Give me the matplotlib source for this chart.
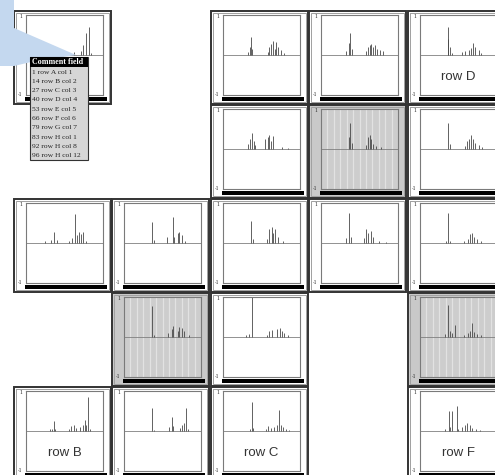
import matplotlib
matplotlib.use("Agg")
import matplotlib.pyplot as plt
from matplotlib.patches import Rectangle, Polygon

# peak positions (fraction of window) and heights, one pair of lists per panel
r0c0_pos = [0.36, 0.62, 0.72, 0.74, 0.78, 0.82, 0.84]
r0c0_h = [0.15, 0.08, 0.10, 0.25, 0.55, 0.70, 0.05]
r0c2_pos = [0.32, 0.35, 0.36, 0.375, 0.58, 0.60, 0.625, 0.65, 0.67, 0.69, 0.72, 0.755, 0.79]
r0c2_h = [0.08, 0.20, 0.44, 0.15, 0.08, 0.20, 0.28, 0.35, 0.15, 0.33, 0.20, 0.12, 0.05]
r0c3_pos = [0.33, 0.37, 0.38, 0.40, 0.59, 0.61, 0.63, 0.655, 0.68, 0.70, 0.73, 0.76, 0.80]
r0c3_h = [0.10, 0.30, 0.56, 0.15, 0.10, 0.20, 0.25, 0.27, 0.20, 0.25, 0.15, 0.12, 0.10]
r0c4_pos = [0.36, 0.37, 0.39, 0.42, 0.55, 0.58, 0.63, 0.66, 0.69, 0.72, 0.76, 0.79]
r0c4_h = [0.40, 0.71, 0.20, 0.05, 0.08, 0.10, 0.12, 0.18, 0.30, 0.20, 0.12, 0.05]
r1c2_pos = [0.32, 0.345, 0.375, 0.40, 0.42, 0.54, 0.58, 0.60, 0.62, 0.645, 0.76, 0.85]
r1c2_h = [0.12, 0.25, 0.40, 0.20, 0.10, 0.25, 0.30, 0.35, 0.20, 0.33, 0.06, 0.03]
r1c3_pos = [0.365, 0.38, 0.40, 0.59, 0.61, 0.63, 0.65, 0.68, 0.72, 0.78]
r1c3_h = [0.30, 0.65, 0.15, 0.10, 0.30, 0.35, 0.25, 0.12, 0.08, 0.05]
r1c4_pos = [0.37, 0.39, 0.58, 0.615, 0.64, 0.665, 0.69, 0.72, 0.77, 0.81]
r1c4_h = [0.65, 0.12, 0.08, 0.20, 0.25, 0.35, 0.25, 0.15, 0.10, 0.05]
r2c0_pos = [0.25, 0.32, 0.37, 0.405, 0.56, 0.60, 0.635, 0.66, 0.69, 0.715, 0.74, 0.78]
r2c0_h = [0.04, 0.07, 0.27, 0.07, 0.04, 0.12, 0.72, 0.20, 0.27, 0.22, 0.27, 0.04]
r2c1_pos = [0.37, 0.39, 0.56, 0.63, 0.65, 0.695, 0.72, 0.75, 0.79]
r2c1_h = [0.52, 0.08, 0.15, 0.65, 0.15, 0.25, 0.28, 0.20, 0.05]
r2c2_pos = [0.365, 0.39, 0.57, 0.60, 0.63, 0.655, 0.68, 0.72, 0.78]
r2c2_h = [0.55, 0.10, 0.10, 0.35, 0.40, 0.25, 0.35, 0.15, 0.05]
r2c3_pos = [0.32, 0.365, 0.39, 0.56, 0.59, 0.615, 0.65, 0.68, 0.755, 0.85]
r2c3_h = [0.12, 0.75, 0.15, 0.12, 0.35, 0.25, 0.30, 0.15, 0.05, 0.03]
r2c4_pos = [0.34, 0.36, 0.39, 0.57, 0.62, 0.65, 0.67, 0.70, 0.745, 0.79]
r2c4_h = [0.05, 0.75, 0.05, 0.05, 0.10, 0.22, 0.25, 0.15, 0.10, 0.06]
r3c1_pos = [0.37, 0.39, 0.57, 0.62, 0.635, 0.695, 0.72, 0.75, 0.78, 0.85]
r3c1_h = [0.77, 0.05, 0.10, 0.20, 0.28, 0.15, 0.25, 0.22, 0.15, 0.06]
r3c2_pos = [0.30, 0.34, 0.375, 0.565, 0.595, 0.63, 0.705, 0.735, 0.765, 0.79, 0.84]
r3c2_h = [0.04, 0.08, 1.00, 0.06, 0.15, 0.18, 0.20, 0.23, 0.15, 0.10, 0.06]
r3c4_pos = [0.33, 0.36, 0.39, 0.415, 0.455, 0.57, 0.62, 0.645, 0.67, 0.70, 0.745, 0.79]
r3c4_h = [0.08, 0.80, 0.15, 0.10, 0.29, 0.05, 0.10, 0.15, 0.35, 0.12, 0.08, 0.05]
r4c0_pos = [0.31, 0.34, 0.36, 0.38, 0.56, 0.59, 0.625, 0.65, 0.695, 0.735, 0.76, 0.78, 0.80, 0.825]
r4c0_h = [0.04, 0.06, 0.25, 0.06, 0.05, 0.12, 0.15, 0.08, 0.10, 0.15, 0.27, 0.15, 0.85, 0.05]
r4c1_pos = [0.37, 0.39, 0.585, 0.62, 0.64, 0.725, 0.755, 0.78, 0.80, 0.825]
r4c1_h = [0.57, 0.03, 0.10, 0.34, 0.12, 0.08, 0.15, 0.20, 0.57, 0.05]
r4c2_pos = [0.345, 0.375, 0.395, 0.56, 0.59, 0.62, 0.665, 0.695, 0.725, 0.75, 0.785, 0.82, 0.855]
r4c2_h = [0.05, 0.72, 0.08, 0.06, 0.12, 0.08, 0.10, 0.15, 0.53, 0.15, 0.10, 0.05, 0.03]
r4c4_pos = [0.33, 0.375, 0.395, 0.42, 0.475, 0.495, 0.55, 0.58, 0.61, 0.645, 0.68, 0.73, 0.785]
r4c4_h = [0.05, 0.51, 0.10, 0.49, 0.63, 0.05, 0.10, 0.15, 0.20, 0.15, 0.08, 0.05, 0.03]

# (row, col, positions, heights, selected, label)
panels = [
    (0, 0, r0c0_pos, r0c0_h, False, None),
    (0, 2, r0c2_pos, r0c2_h, False, None),
    (0, 3, r0c3_pos, r0c3_h, False, None),
    (0, 4, r0c4_pos, r0c4_h, False, "row D"),
    (1, 2, r1c2_pos, r1c2_h, False, None),
    (1, 3, r1c3_pos, r1c3_h, True, None),
    (1, 4, r1c4_pos, r1c4_h, False, None),
    (2, 0, r2c0_pos, r2c0_h, False, None),
    (2, 1, r2c1_pos, r2c1_h, False, None),
    (2, 2, r2c2_pos, r2c2_h, False, None),
    (2, 3, r2c3_pos, r2c3_h, False, None),
    (2, 4, r2c4_pos, r2c4_h, False, None),
    (3, 1, r3c1_pos, r3c1_h, True, None),
    (3, 2, r3c2_pos, r3c2_h, False, None),
    (3, 4, r3c4_pos, r3c4_h, True, None),
    (4, 0, r4c0_pos, r4c0_h, False, "row B"),
    (4, 1, r4c1_pos, r4c1_h, False, None),
    (4, 2, r4c2_pos, r4c2_h, False, "row C"),
    (4, 4, r4c4_pos, r4c4_h, False, "row F"),
]

comment_title = "Comment field"
comment_lines = ["1 row A col 1", "14 row B col 2", "27 row C col 3", "40 row D col 4",
                 "53 row E col 5", "66 row F col 6", "79 row G col 7", "83 row H col 1",
                 "92 row H col 8", "96 row H col 12"]

W, H = 495, 475
col_x = [14, 112, 211, 309, 408]
row_y = [11, 105, 199, 293, 387]
PW, PH = 97, 93

fig = plt.figure(figsize=(W / 100, H / 100), dpi=100)
bg = fig.add_axes([0, 0, 1, 1])
bg.set_xlim(0, W)
bg.set_ylim(H, 0)
bg.axis("off")


def fig_rect(x, y, w, h):
    return [x / W, 1 - (y + h) / H, w / W, h / H]


for row, col, pos, hts, sel, label in panels:
    x0, y0 = col_x[col], row_y[row]
    face = "#c9c9c9" if sel else "white"
    bg.add_patch(Rectangle((x0, y0), PW, PH, facecolor=face, edgecolor="#333333", lw=1.4))
    bg.add_patch(Rectangle((x0 + 2, y0 + 2), PW - 4, PH - 4, fill=False, edgecolor="#a0a0a0", lw=0.7))
    bg.add_patch(Rectangle((x0 + 11, y0 + 86), 82, 4, facecolor="black", edgecolor="none"))
    bg.text(x0 + 7, y0 + 5, "1", fontsize=3.5, family="DejaVu Serif", color="#333", ha="center", va="center")
    bg.text(x0 + 6, y0 + 84, "-1", fontsize=3.5, family="DejaVu Serif", color="#333", ha="center", va="center")

    ax = fig.add_axes(fig_rect(x0 + 12, y0 + 4, 77, 80))
    ax.set_xlim(0, 1)
    ax.set_ylim(-1, 1)
    ax.set_facecolor("#cdcdcd" if sel else "white")
    if sel:
        ax.set_xticks([i / 12 for i in range(1, 12)])
        ax.grid(axis="x", color="#e2e2e2", lw=0.9)
    else:
        ax.set_xticks([])
    ax.set_yticks([])
    ax.tick_params(length=0, labelbottom=False)
    for s in ax.spines.values():
        s.set_color("#7a7a7a")
        s.set_linewidth(0.8)
    ax.axhline(0, color="#808080", lw=0.6)
    ax.vlines(pos, 0, hts, color="#484848", lw=0.6)
    if label:
        ax.text(0.5, -0.56, label, ha="center", va="center", fontsize=9.5,
                family="Liberation Sans", color="#333333")

# callout and comment popup on top
top = fig.add_axes([0, 0, 1, 1])
top.set_xlim(0, W)
top.set_ylim(H, 0)
top.axis("off")
top.patch.set_alpha(0)
top.add_patch(Polygon([(0, 0), (14, 0), (14, 28), (76, 55), (31, 62), (14, 66), (0, 66)],
                      closed=True, facecolor="#c4d8ef", edgecolor="none"))
top.add_patch(Rectangle((30, 57), 58, 103, facecolor="#d6d6d6", edgecolor="#333333", lw=0.8))
top.add_patch(Rectangle((30, 57), 58, 10, facecolor="black", edgecolor="none"))
top.text(32, 62, comment_title, fontsize=5.8, family="Liberation Serif", fontweight="bold",
         color="white", va="center", ha="left")
for i, line in enumerate(comment_lines):
    top.text(32, 72 + i * 9.3, line, fontsize=5.4, family="Liberation Serif",
             color="#222222", va="center", ha="left")

fig.savefig("out.png", dpi=100)
